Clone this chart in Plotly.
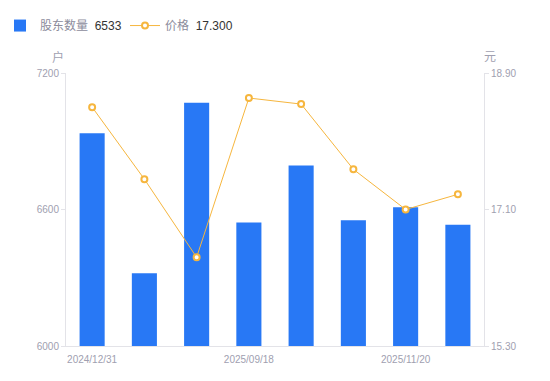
import plotly.graph_objects as go

categories = ["2024/12/31", "2025/03/31", "2025/06/30", "2025/09/18",
              "2025/09/30", "2025/10/20", "2025/11/20", "2025/11/28"]
holders = [6935, 6320, 7069, 6543, 6793, 6553, 6610, 6533]
prices = [18.45, 17.50, 16.47, 18.57, 18.49, 17.63, 17.10, 17.30]
shown_idx = [0, 3, 6]
left_ticks = [6000, 6600, 7200]
right_ticks = [15.30, 17.10, 18.90]

x = list(range(len(categories)))
BLUE = "#2878f5"
ORANGE = "#f6b63e"
GRAY = "#a0a0b0"
FONT = "Liberation Sans, Noto Sans CJK SC, sans-serif"

fig = go.Figure()
fig.add_trace(go.Bar(
    x=x, y=holders, width=0.48, marker=dict(color=BLUE, line=dict(width=0)),
    name="股东数量&nbsp;&nbsp;<span style='color:#333333'>%d</span>" % holders[-1],
    hoverinfo="skip", yaxis="y"))
fig.add_trace(go.Scatter(
    x=x, y=prices, mode="lines+markers",
    line=dict(color=ORANGE, width=1),
    marker=dict(symbol="circle", size=6, color="white", line=dict(color=ORANGE, width=2)),
    name="价格&nbsp;&nbsp;<span style='color:#333333'>%.3f</span>" % prices[-1],
    hoverinfo="skip", yaxis="y2"))

fig.update_layout(
    width=550, height=381,
    margin=dict(l=66, r=66, t=73, b=35, autoexpand=False),
    paper_bgcolor="white", plot_bgcolor="white",
    font=dict(family=FONT, color=GRAY, size=10),
    showlegend=True,
    legend=dict(orientation="h", xref="container", yref="container",
                x=-0.027, y=0.971, xanchor="left", yanchor="top",
                font=dict(size=12, color="#8c8c9c", family=FONT),
                itemwidth=30, entrywidth=80,
                traceorder="normal"),
    xaxis=dict(range=[-0.5, len(categories) - 0.5], tickmode="array",
               tickvals=[x[i] for i in shown_idx],
               ticktext=[categories[i] for i in shown_idx],
               showgrid=False, zeroline=False, showline=True,
               linecolor="#e3e3e8", linewidth=1,
               ticks="outside", ticklen=4, tickcolor="rgba(0,0,0,0)",
               tickfont=dict(size=10, color=GRAY)),
    yaxis=dict(range=[6000, 7200], tickvals=left_ticks, showgrid=False,
               zeroline=False, showline=True, linecolor="#e3e3e8", linewidth=1,
               ticks="outside", ticklen=4, tickcolor="#e3e3e8",
               tickfont=dict(size=10, color=GRAY)),
    yaxis2=dict(range=[15.30, 18.90], tickvals=right_ticks,
                tickformat=".2f", overlaying="y", side="right",
                showgrid=False, zeroline=False, showline=True,
                linecolor="#e3e3e8", linewidth=1,
                ticks="outside", ticklen=4, tickcolor="#e3e3e8",
                tickfont=dict(size=10, color=GRAY)),
    annotations=[
        dict(text="户", xref="paper", yref="paper", x=-0.018, y=1.0586,
             showarrow=False, xanchor="center", yanchor="middle",
             font=dict(size=12, color=GRAY)),
        dict(text="元", xref="paper", yref="paper", x=1.0144, y=1.0586,
             showarrow=False, xanchor="center", yanchor="middle",
             font=dict(size=12, color=GRAY)),
    ],
)

fig.write_html("out.html", config={"displayModeBar": False},
               post_script="document.body.style.margin='0';")
